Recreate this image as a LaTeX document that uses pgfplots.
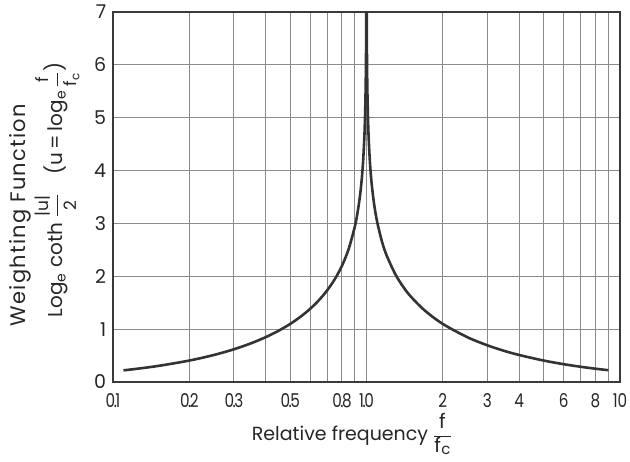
\documentclass[border=0pt]{standalone}
\usepackage{fontspec}
\setmainfont{Poppins}
\usepackage{pgfplots}
\pgfplotsset{compat=1.18}
\definecolor{curve}{HTML}{333333}
\definecolor{gridc}{HTML}{8A8A8A}
\definecolor{frame}{HTML}{3A3A3A}
\newcommand{\dd}[2]{#1\kern-1.5pt.\kern-1.5pt#2}
\newcommand{\ffc}{$\displaystyle\frac{\hbox{\fontsize{20}{21}\selectfont f}}{\hbox{\fontsize{20}{21}\selectfont f\kern0.5pt\raisebox{-2pt}{\fontsize{15}{16}\selectfont c}}}$}
\begin{document}
\fontsize{17}{19}\selectfont
\begin{tikzpicture}
\begin{axis}[
  scale only axis,
  width=507pt, height=370pt,
  xmode=log, xmin=0.1, xmax=10, ymin=0, ymax=7,
  xtick={0.1,0.2,0.3,0.5,0.8,1,2,3,4,6,8,10},
  xticklabels={\dd{0}{1},\dd{0}{2},\dd{0}{3},\dd{0}{5},\dd{0}{8},\dd{1}{0},2,3,4,6,8,10},
  minor xtick={0.4,0.6,0.7,0.9,5,7,9},
  ytick={0,1,2,3,4,5,6,7},
  grid=both,
  major grid style={gridc, line width=1.1pt},
  minor grid style={gridc, line width=1.1pt},
  axis line style={frame, line width=1.8pt},
  major tick length=0pt, minor tick length=0pt,
  tick label style={font=\fontsize{19}{21}\selectfont, text=black!85},
  /pgf/number format/assume math mode=true,
  xticklabel style={yshift=-6pt, font=\fontsize{19}{21}\selectfont\addfontfeature{FakeStretch=0.8}},
  yticklabel style={xshift=-1pt},
  clip mode=individual,
]
\addplot[curve, line width=2.6pt, smooth] coordinates {
(0.11,0.2209) (0.12,0.2412) (0.15,0.3023) (0.2,0.4055) (0.25,0.5108)
(0.3,0.6190) (0.35,0.7309) (0.4,0.8473) (0.45,0.9694) (0.5,1.0986)
(0.55,1.2368) (0.6,1.3863) (0.65,1.5506) (0.7,1.7346) (0.75,1.9459)
(0.8,2.1972) (0.85,2.5123) (0.9,2.9444) (0.92,3.1781) (0.94,3.4761)
(0.95,3.6636) (0.96,3.8918) (0.97,4.1846) (0.98,4.5951) (0.985,4.8853)
(0.99,5.2933) (0.993,5.6514) (0.995,5.9890) (0.997,6.5008) (0.998,6.9068)
(0.9982,7.0122)
};
\addplot[curve, line width=2.6pt, smooth] coordinates {
(1.0018,7.0122) (1.002,6.9088) (1.003,6.5038) (1.005,5.9940) (1.007,5.6585)
(1.01,5.3033) (1.015,4.9003) (1.02,4.6151) (1.03,4.2145) (1.04,3.9318)
(1.05,3.7136) (1.07,3.3868) (1.1,3.0445) (1.15,2.6626) (1.2,2.3979)
(1.3,2.0369) (1.4,1.7918) (1.5,1.6094) (1.7,1.3499) (2,1.0986)
(2.5,0.8473) (3,0.6931) (3.5,0.5878) (4,0.5108) (5,0.4055)
(6,0.3365) (7,0.2877) (8,0.2513) (9,0.2231)
};
\node[rotate=90, anchor=center, text=black!85, font=\fontsize{21}{23}\selectfont\addfontfeature{LetterSpace=6}] at (axis description cs:-0.183,0.451)
  {Weighting Function};
\node[rotate=90, anchor=center, text=black!85, font=\fontsize{20}{22}\selectfont] at (axis description cs:-0.110,0.519)
  {Log\textsubscript{e} coth $\displaystyle\frac{\hbox{\fontsize{17}{18}\selectfont|u|}}{\hbox{\fontsize{17}{18}\selectfont 2}}$\quad(u\,=\,log\textsubscript{e}\,$\displaystyle\frac{\hbox{\fontsize{17}{18}\selectfont f}}{\hbox{\fontsize{17}{18}\selectfont f\textsubscript{c}}}$)};
\node[anchor=center, text=black!85, font=\fontsize{19}{21}\selectfont] at (axis description cs:0.471,-0.140)
  {Relative frequency \ffc};
\end{axis}
\pgfresetboundingbox
\path ([shift={(-113pt,-80pt)}]current axis.south west) rectangle ([shift={(10pt,12pt)}]current axis.north east);
\end{tikzpicture}
\end{document}
